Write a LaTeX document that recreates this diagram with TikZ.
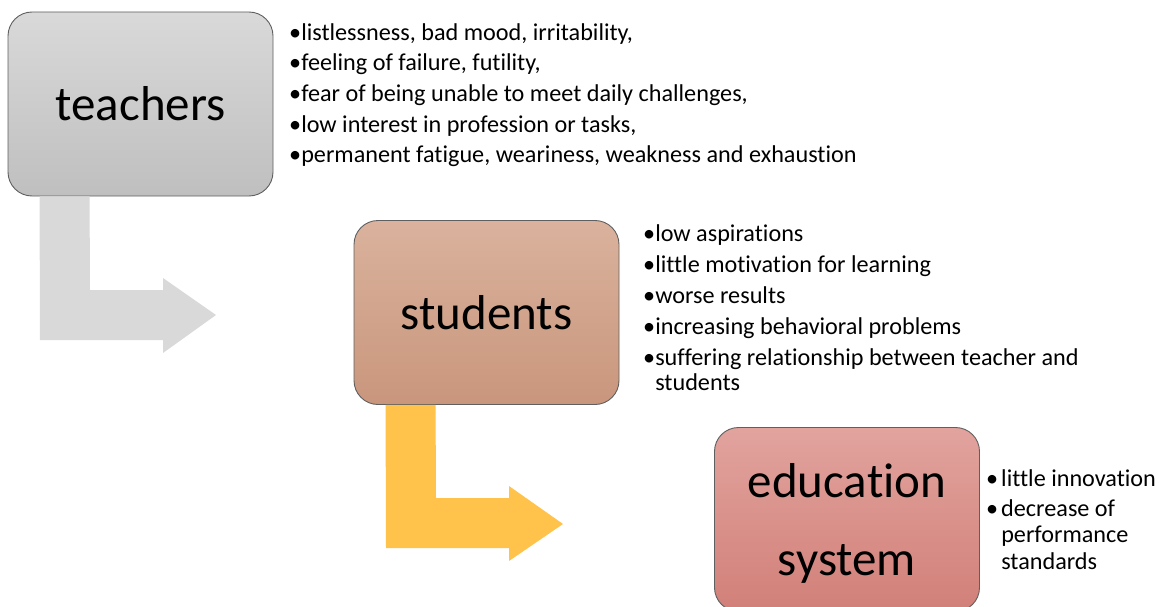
\documentclass[tikz,border=0pt]{standalone}
\usepackage{fontspec}
\setmainfont{Carlito}[Ligatures=NoCommon]
\usetikzlibrary{calc}
\definecolor{boxline}{RGB}{95,95,95}
\definecolor{tTop}{RGB}{217,217,217}
\definecolor{tBot}{RGB}{191,191,191}
\definecolor{sTop}{RGB}{218,178,157}
\definecolor{sBot}{RGB}{201,150,124}
\definecolor{eTop}{RGB}{226,163,158}
\definecolor{eBot}{RGB}{209,128,120}
\definecolor{arrgray}{RGB}{217,217,217}
\definecolor{arrorange}{RGB}{255,194,75}
\newcommand{\bul}{•}
\newcommand{\ind}{\phantom{•}}
\begin{document}
\begin{tikzpicture}[x=1pt,y=-1pt,
  box/.style={draw=boxline, line width=0.9pt, rounded corners=24pt,
    minimum width=265pt, minimum height=184pt, inner sep=0pt,
    font=\fontsize{49}{78}\selectfont, align=center},
  list/.style={anchor=base west, inner sep=0pt, align=left}]
\useasboundingbox (0,0) rectangle (1159,607);

\node[box, top color=tTop, bottom color=tBot] (teachers) at (140.5,104) {teachers};
\node[box, top color=sTop, bottom color=sBot] (students) at (486.5,312.5) {students};
\node[box, top color=eTop, bottom color=eBot] (education) at (847,519.5) {\rule{0pt}{41pt}education\\system};

% bent arrows
\fill[arrgray] ($(teachers.south west)+(32,0)$) -- ($(teachers.south west)+(82,0)$)
  -- (90,290) -- (163,290) -- (163,278) -- (216,315) -- (163,353) -- (163,340) -- (40,340) -- cycle;
\fill[arrorange] ($(students.south west)+(32,0)$) -- ($(students.south west)+(82,0)$)
  -- (436,498) -- (509,498) -- (509,486) -- (563,524) -- (509,561) -- (509,548) -- (386,548) -- cycle;

% multi-line nodes: base anchor lies on the last line
\node[list, font=\fontsize{24.2}{30.7}\selectfont] (tlist) at (289,163) {%
\bul listlessness, bad mood, irritability,\\
\bul feeling of failure, futility,\\
\bul fear of being unable to meet daily challenges,\\
\bul low interest in profession or tasks,\\
\bul permanent fatigue, weariness, weakness and exhaustion};

\node[list, font=\fontsize{24.2}{25}\selectfont] (slist) at (643,390) {%
\bul low aspirations\\[6pt]
\bul little motivation for learning\\[6pt]
\bul worse results\\[6pt]
\bul increasing behavioral problems\\[6pt]
\bul suffering relationship between teacher and\\
\ind students};

\node[list, font=\fontsize{24.2}{26.5}\selectfont] (elist) at (986,569) {%
\bul\hspace{3pt}little innovation\\[3.5pt]
\bul\hspace{3pt}decrease of\\
\ind\hspace{3pt}performance\\
\ind\hspace{3pt}standards};
\end{tikzpicture}
\end{document}
